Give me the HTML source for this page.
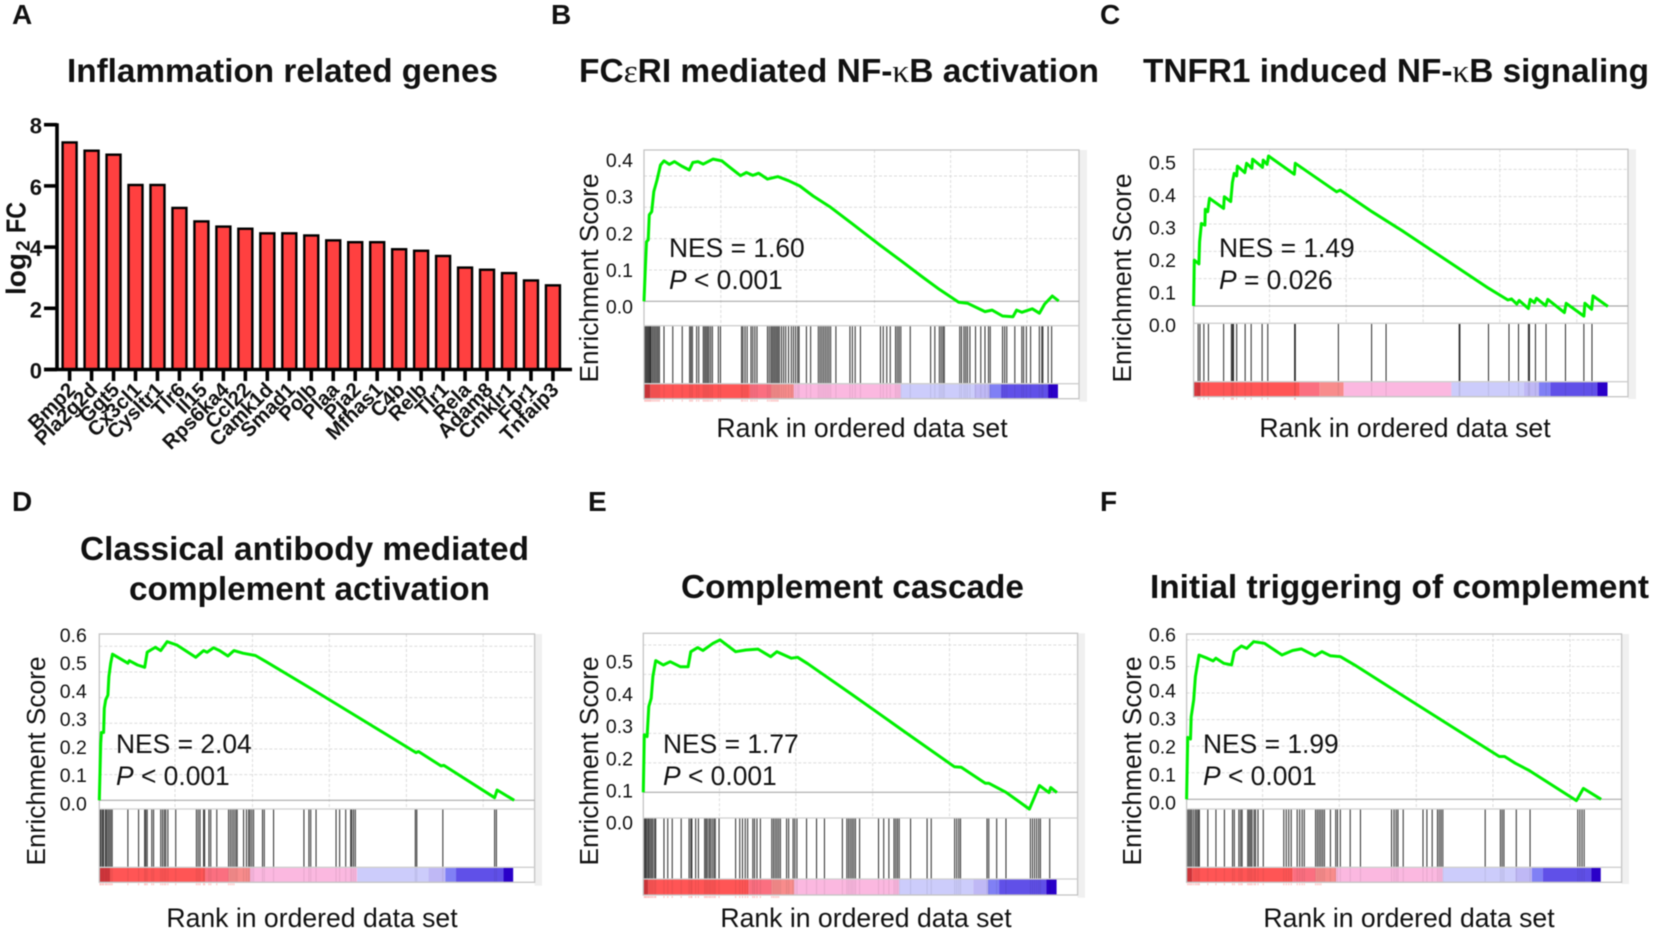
<!DOCTYPE html>
<html>
<head>
<meta charset="utf-8">
<title>Inflammation genes and GSEA panels</title>
<style>
html,body{margin:0;padding:0;background:#fff;width:1654px;height:934px;overflow:hidden}
svg{display:block;font-family:"Liberation Sans",sans-serif;filter:blur(0.45px)}
.letter{font-size:28px;font-weight:bold;fill:#111}
.title{font-size:33px;font-weight:bold;fill:#111}
.greek{font-family:"Liberation Serif",serif;font-weight:normal}
.ylab{font-size:26.3px;fill:#111;text-anchor:middle}
.xlab{font-size:26.6px;fill:#111;text-anchor:middle}
.stat{font-size:26.4px;fill:#111}
.tick{font-size:19.5px;fill:#111;text-anchor:end}
</style>
</head>
<body>
<svg id="fig" xmlns="http://www.w3.org/2000/svg" width="1654" height="934" viewBox="0 0 1654 934">
  <rect width="1654" height="934" fill="#fff"/>
  <g id="layer"></g>

  <text class="letter" x="12" y="24">A</text>
  <text class="letter" x="551" y="24">B</text>
  <text class="letter" x="1100" y="24">C</text>
  <text class="letter" x="12" y="511">D</text>
  <text class="letter" x="588" y="511">E</text>
  <text class="letter" x="1100" y="511">F</text>

  <text class="title" x="67" y="82" textLength="431" lengthAdjust="spacingAndGlyphs">Inflammation related genes</text>
  <text class="title" x="579" y="82" textLength="520" lengthAdjust="spacingAndGlyphs">FC<tspan class="greek">ε</tspan>RI mediated NF-<tspan class="greek">κ</tspan>B activation</text>
  <text class="title" x="1143" y="82" textLength="506" lengthAdjust="spacingAndGlyphs">TNFR1 induced NF-<tspan class="greek">κ</tspan>B signaling</text>
  <text class="title" x="80" y="560" textLength="449" lengthAdjust="spacingAndGlyphs">Classical antibody mediated</text>
  <text class="title" x="129" y="600" textLength="361" lengthAdjust="spacingAndGlyphs">complement activation</text>
  <text class="title" x="681" y="598" textLength="343" lengthAdjust="spacingAndGlyphs">Complement cascade</text>
  <text class="title" x="1150" y="598" textLength="499" lengthAdjust="spacingAndGlyphs">Initial triggering of complement</text>

  <g transform="translate(16.5,249) rotate(-90)">
    <text x="-46" y="9" font-size="28" font-weight="bold" fill="#111">log</text>
    <text x="-2" y="13" font-size="19" font-weight="bold" fill="#111">2</text>
    <text x="16" y="9" font-size="28" font-weight="bold" fill="#111" textLength="31" lengthAdjust="spacingAndGlyphs">FC</text>
  </g>

  <text class="ylab" transform="translate(598,278) rotate(-90)">Enrichment Score</text>
  <text class="ylab" transform="translate(1131,278) rotate(-90)">Enrichment Score</text>
  <text class="ylab" transform="translate(45,761) rotate(-90)">Enrichment Score</text>
  <text class="ylab" transform="translate(598,761) rotate(-90)">Enrichment Score</text>
  <text class="ylab" transform="translate(1141,761) rotate(-90)">Enrichment Score</text>

  <text class="xlab" x="862" y="437">Rank in ordered data set</text>
  <text class="xlab" x="1405" y="437">Rank in ordered data set</text>
  <text class="xlab" x="312" y="927">Rank in ordered data set</text>
  <text class="xlab" x="866" y="927">Rank in ordered data set</text>
  <text class="xlab" x="1409" y="927">Rank in ordered data set</text>

  <g id="stats">
    <text class="stat" x="669" y="257">NES = 1.60</text>
    <text class="stat" x="669" y="289"><tspan font-style="italic">P</tspan> &lt; 0.001</text>
    <text class="stat" x="1219" y="257">NES = 1.49</text>
    <text class="stat" x="1219" y="289"><tspan font-style="italic">P</tspan> = 0.026</text>
    <text class="stat" x="116" y="753">NES = 2.04</text>
    <text class="stat" x="116" y="785"><tspan font-style="italic">P</tspan> &lt; 0.001</text>
    <text class="stat" x="663" y="753">NES = 1.77</text>
    <text class="stat" x="663" y="785"><tspan font-style="italic">P</tspan> &lt; 0.001</text>
    <text class="stat" x="1203" y="753">NES = 1.99</text>
    <text class="stat" x="1203" y="785"><tspan font-style="italic">P</tspan> &lt; 0.001</text>
  </g>
</svg>

<script>
// ---- Panel A data ----
const genes = ["Bmp2","Pla2g2d","Ggt5","Cx3cl1","Cysltr1","Tlr6","Il15","Rps6ka4","Ccl22","Camk1d","Smad1","Polb","Plaa","Pja2","Mfhas1","C4b","Relb","Tlr1","Rela","Adam8","Cmklr1","Fpr1","Tnfaip3"];
const log2fc = [7.42,7.15,7.02,6.03,6.03,5.28,4.84,4.67,4.6,4.45,4.45,4.38,4.22,4.16,4.16,3.93,3.88,3.71,3.33,3.26,3.15,2.91,2.75];
const log2fcTicks = [0,2,4,6,8];

// ---- GSEA shared data ----
const heatColors = ["#d8383e","#ff5555","#fb6f80","#f88c8c","#fbb8e0","#ccccfb","#bfb8f5","#8080f5","#6050e8","#2a00c8"];

// ---- Panel B ----
const bRanks = [0,4,7,12,15,22,28,37,47,57,72,87,107,129,139,154,169,197,222,242,275,292,310,327,352,382,412,444,482,532,592,672,732,792,842,897,922,972,992,1022,1052,1062,1077,1107,1127,1142,1164,1182];
const bScores = [0,.111,.19,.196,.276,.286,.35,.387,.435,.448,.437,.446,.432,.419,.443,.446,.438,.454,.448,.43,.401,.411,.402,.409,.39,.398,.385,.368,.336,.3,.249,.18,.13,.079,.038,-.003,-.006,-.033,-.028,-.047,-.049,-.028,-.035,-.024,-.038,-.009,.017,.001];
const bHits = [2,5,8,11,14,17,20,24,28,32,36,40,44,57,82,109,130,134,138,150,156,169,173,177,181,185,190,195,212,218,278,282,288,294,305,310,316,322,352,357,362,366,370,374,378,382,386,392,398,404,412,420,426,432,438,442,463,475,497,502,507,512,517,522,527,532,547,587,594,602,617,674,682,692,702,717,722,727,732,759,817,829,842,847,852,856,900,905,912,917,922,929,945,960,972,982,987,1022,1028,1034,1057,1077,1082,1090,1102,1127,1134,1137,1152,1162];
const bHeat = [18,302,362,427,732,942,985,1017,1152,1180];
const bGridRanks = [219,435,657,874,1092];
const bGridScores = [.1,.2,.3,.4];
const bTickLabels = ["0.0","0.1","0.2","0.3","0.4"];

// ---- Panel C ----
const cRanks = [0,2,15,17,22,32,33,40,45,85,87,105,110,115,122,124,145,150,165,167,195,197,208,212,285,288,405,415,505,595,755,835,890,900,915,922,948,953,965,971,997,1003,1050,1055,1105,1108,1127,1131,1173];
const cScores = [0,.168,.154,.235,.302,.296,.354,.345,.394,.357,.4,.382,.452,.485,.476,.512,.488,.522,.504,.537,.507,.534,.518,.549,.482,.522,.418,.424,.345,.272,.134,.065,.022,.026,.007,.02,-.009,.024,.012,.028,.001,.024,-.024,.01,-.037,.01,-.012,.037,-.002];
const cHits = [13,18,29,42,85,107,110,113,122,146,163,194,210,286,288,410,504,545,752,754,835,893,920,948,951,968,998,1053,1105,1128];
const cHeat = [20,300,357,425,730,935,978,1010,1143,1172];
const cGridRanks = [215,432,650,867,1085];
const cGridScores = [.1,.2,.3,.4,.5];
const cTickLabels = ["0.0","0.1","0.2","0.3","0.4","0.5"];

// ---- Panel D ----
const dRanks = [0,4,6,12,14,18,24,27,32,37,80,84,107,127,134,147,157,172,190,217,270,292,302,320,337,360,377,402,437,467,592,722,887,894,957,965,1107,1114,1162];
const dScores = [0,.222,.264,.264,.358,.391,.41,.482,.534,.569,.534,.544,.527,.518,.577,.588,.596,.583,.618,.605,.557,.583,.577,.594,.583,.562,.583,.573,.564,.54,.436,.326,.186,.19,.134,.136,.01,.04,0];
const dHits = [2,5,9,12,17,20,24,28,32,36,80,110,127,130,134,147,152,172,177,182,186,192,214,272,277,282,292,295,307,312,329,362,367,372,377,382,386,404,412,418,422,427,432,457,462,488,573,587,592,607,663,673,690,704,707,712,717,885,889,962,1107,1112];
const dHeat = [30,297,362,422,722,922,969,999,1132,1159];
const dGridRanks = [212,429,644,860,1075];
const dGridScores = [.1,.2,.3,.4,.5,.6];
const dTickLabels = ["0.0","0.1","0.2","0.3","0.4","0.5","0.6"];

// ---- Panel E ----
const eRanks = [0,3,11,16,23,28,36,58,78,108,130,138,158,173,203,223,268,298,333,370,388,430,448,478,608,758,903,923,993,1003,1053,1121,1150,1178,1183,1201];
const eScores = [0,.195,.189,.291,.319,.393,.447,.432,.443,.426,.426,.477,.491,.481,.506,.517,.477,.483,.486,.46,.477,.455,.458,.436,.33,.206,.087,.085,.031,.031,0,-.057,.023,-.001,.016,-.001];
const eHits = [3,6,9,13,16,20,24,28,33,36,60,71,84,110,133,138,141,152,160,178,182,186,191,195,200,205,209,220,268,280,288,296,303,318,323,330,340,373,378,383,388,393,398,416,422,435,440,446,474,503,526,578,591,596,601,606,611,616,628,683,698,713,728,733,738,743,776,824,836,904,910,916,921,998,1003,1026,1053,1124,1130,1136,1142,1148,1153,1180];
const eHeat = [14,306,373,438,743,958,1001,1033,1170,1200];
const eGridRanks = [221,443,666,889,1112];
const eGridScores = [.1,.2,.3,.4,.5];
const eTickLabels = ["0.0","0.1","0.2","0.3","0.4","0.5"];

// ---- Panel F ----
const fRanks = [0,3,11,13,20,25,35,58,75,83,105,127,135,155,170,190,220,270,300,325,363,383,407,435,475,605,755,885,900,930,970,1103,1123,1173];
const fScores = [0,.233,.227,.311,.374,.462,.543,.531,.521,.531,.512,.506,.556,.577,.568,.593,.587,.543,.56,.566,.54,.556,.54,.537,.506,.396,.27,.161,.161,.136,.108,-.005,.041,0];
const fHits = [3,7,11,15,20,25,29,33,36,60,83,107,130,135,148,153,157,173,177,181,185,191,195,202,217,275,282,289,296,313,320,327,333,365,370,375,380,385,390,407,422,427,435,463,492,580,587,593,598,613,669,680,695,710,715,720,725,845,888,893,898,933,972,1107,1113,1119,1125];
const fHeat = [16,300,365,423,725,930,977,1008,1145,1172];
const fGridRanks = [215,432,650,867,1085];
const fGridScores = [.1,.2,.3,.4,.5,.6];
const fTickLabels = ["0.0","0.1","0.2","0.3","0.4","0.5","0.6"];

const SVGNS = "http://www.w3.org/2000/svg";
const layer = document.getElementById("layer");
function mk(parent, tag, attrs, text) {
  const n = document.createElementNS(SVGNS, tag);
  for (const k in attrs) n.setAttribute(k, attrs[k]);
  if (text !== undefined) n.textContent = text;
  parent.appendChild(n);
  return n;
}

// ---- Draw panel A ----
(function drawBars() {
  const x0 = 69.6, step = 21.97, base = 369.5, perUnit = 30.6, axisLeft = 57;
  const xPos = i => x0 + i * step;
  const yPos = v => base - v * perUnit;
  const g = mk(layer, "g", {});
  
  
  log2fc.forEach((v, i) => {
    const bar = mk(g, "rect", {x: xPos(i) - 7, y: yPos(v), width: 14, height: base - yPos(v), fill: "#ff4040", stroke: "#000", "stroke-width": 2.4});
    
    
    const tick = mk(g, "line", {x1: xPos(i), x2: xPos(i), y1: base, y2: 381, stroke: "#000", "stroke-width": 3.6});
    
    
    const lab = mk(g, "text", {transform: "translate(" + (xPos(i) + 7) + ",391) rotate(-45)", "text-anchor": "end", "font-size": 20.5, "font-weight": "bold", fill: "#111"}, genes[i]);
    
    
  });
  const yAxis = mk(g, "line", {x1: axisLeft, x2: axisLeft, y1: yPos(8) - 1.5, y2: base + 1.5, stroke: "#000", "stroke-width": 3.6});
  
  
  const xAxis = mk(g, "line", {x1: 44, x2: 572, y1: base, y2: base, stroke: "#000", "stroke-width": 3.6});
  
  
  log2fcTicks.forEach(t => {
    const tk = mk(g, "line", {x1: 44, x2: axisLeft, y1: yPos(t), y2: yPos(t), stroke: "#000", "stroke-width": 3.6});
    
    
    const lb = mk(g, "text", {x: 42, y: yPos(t) + 9, "text-anchor": "end", "font-size": 22, "font-weight": "bold", fill: "#111"}, String(t));
    
    
  });
})();

// ---- Draw a GSEA panel ----
function drawGsea(p) {
  const w = p.right - p.left;
  const xPos = r => p.left + r / p.rankMax * w;
  const yPos = s => p.zero - s * p.perUnit;
  const labelY = s => p.label0 - s * 10 * p.labelStep;
  const g = mk(layer, "g", {});
  
  

  const band = mk(g, "rect", {x: p.right, y: p.top, width: p.bandRight - p.right, height: p.bandBottom - p.top, fill: "#f0f0f0"});
  
  

  p.gridScores.forEach(s => {
    const l = mk(g, "line", {x1: p.left, x2: p.right, y1: yPos(s), y2: yPos(s), stroke: "#dcdcdc", "stroke-width": 1, "stroke-dasharray": "3 2"});
    
    
  });
  p.gridRanks.forEach(r => {
    const l = mk(g, "line", {x1: xPos(r), x2: xPos(r), y1: p.top, y2: p.mainBottom, stroke: "#dcdcdc", "stroke-width": 1, "stroke-dasharray": "3 2"});
    
    
  });

  let start = 0;
  p.heat.forEach((end, i) => {
    const seg = mk(g, "rect", {x: xPos(start), y: p.stripTop, width: xPos(end) - xPos(start), height: p.stripBottom - p.stripTop, fill: heatColors[i]});
    
    
    start = end;
  });

  p.hits.forEach(r => {
    const l = mk(g, "line", {x1: xPos(r), x2: xPos(r), y1: p.mainBottom, y2: p.stripTop, stroke: "#000", "stroke-width": 1.05, opacity: .8});
    
    
    const s = mk(g, "line", {x1: xPos(r), x2: xPos(r), y1: p.stripTop, y2: p.stripBottom, stroke: "#000", "stroke-width": 1, opacity: .08});
    
    
    if (r < p.heat[3] * .9) {
      const m = mk(g, "line", {x1: xPos(r), x2: xPos(r), y1: p.stripBottom + 1, y2: p.stripBottom + 3, stroke: "#ff4040", "stroke-width": 1, opacity: .35});
      
      
    }
  });

  const border = mk(g, "rect", {x: p.left, y: p.top, width: w, height: p.stripBottom - p.top, fill: "none", stroke: "#c4c4c4", "stroke-width": 1.3});
  
  
  [p.mainBottom, p.stripTop].forEach(y => {
    const l = mk(g, "line", {x1: p.left, x2: p.right, y1: y, y2: y, stroke: "#cfcfcf", "stroke-width": 1.3});
    
    
  });
  const zero = mk(g, "line", {x1: p.left, x2: p.right, y1: yPos(0), y2: yPos(0), stroke: "#a8a8a8", "stroke-width": 1.2});
  
  

  const pts = p.ranks.map((r, i) => xPos(r).toFixed(1) + "," + yPos(p.scores[i]).toFixed(1)).join(" ");
  const curve = mk(g, "polyline", {points: pts, fill: "none", stroke: "#00f000", "stroke-width": 3, "stroke-linejoin": "round"});
  
  

  p.tickLabels.forEach(t => {
    const lb = mk(g, "text", {class: "tick", x: p.labelRight, y: labelY(parseFloat(t)) + 7}, t);
    
    
  });
}

drawGsea({id: "b", left: 644, right: 1079, bandRight: 1087, top: 150, mainBottom: 325.7, stripTop: 383.7, stripBottom: 398.7, bandBottom: 401.7, zero: 301.3, perUnit: 313.3, rankMax: 1240, label0: 306.7, labelStep: 36.67, labelRight: 633, ranks: bRanks, scores: bScores, hits: bHits, heat: bHeat, gridRanks: bGridRanks, gridScores: bGridScores, tickLabels: bTickLabels});
drawGsea({id: "c", left: 1193.6, right: 1628, bandRight: 1636, top: 149.3, mainBottom: 323.3, stripTop: 381.7, stripBottom: 396.7, bandBottom: 399, zero: 306, perUnit: 273.3, rankMax: 1230, label0: 325, labelStep: 32.5, labelRight: 1176, ranks: cRanks, scores: cScores, hits: cHits, heat: cHeat, gridRanks: cGridRanks, gridScores: cGridScores, tickLabels: cTickLabels});
drawGsea({id: "d", left: 99.3, right: 534.6, bandRight: 542, top: 634, mainBottom: 809, stripTop: 867.3, stripBottom: 882.3, bandBottom: 885.7, zero: 800.3, perUnit: 256.7, rankMax: 1219, label0: 803.3, labelStep: 28.06, labelRight: 86.8, ranks: dRanks, scores: dScores, hits: dHits, heat: dHeat, gridRanks: dGridRanks, gridScores: dGridScores, tickLabels: dTickLabels});
drawGsea({id: "e", left: 643.3, right: 1077.6, bandRight: 1085, top: 633.3, mainBottom: 818, stripTop: 879, stripBottom: 895, bandBottom: 897.7, zero: 792.3, perUnit: 294.7, rankMax: 1261, label0: 822.7, labelStep: 32.2, labelRight: 633, ranks: eRanks, scores: eScores, hits: eHits, heat: eHeat, gridRanks: eGridRanks, gridScores: eGridScores, tickLabels: eTickLabels});
drawGsea({id: "f", left: 1186.6, right: 1621.6, bandRight: 1629, top: 634, mainBottom: 809, stripTop: 867.3, stripBottom: 882.3, bandBottom: 884, zero: 799.3, perUnit: 265.7, rankMax: 1231, label0: 802.7, labelStep: 28.07, labelRight: 1176, ranks: fRanks, scores: fScores, hits: fHits, heat: fHeat, gridRanks: fGridRanks, gridScores: fGridScores, tickLabels: fTickLabels});
</script>
</body>
</html>
